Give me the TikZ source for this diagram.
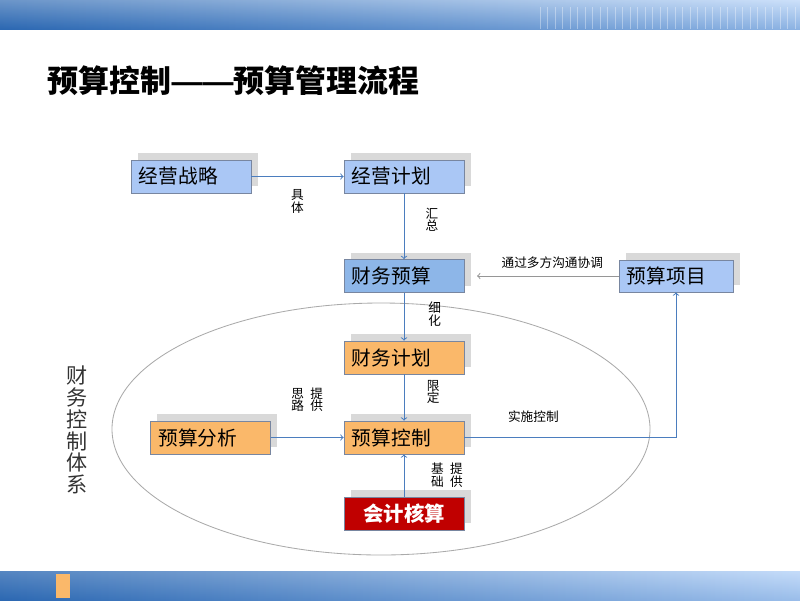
\documentclass[tikz,border=0pt]{standalone}
\usepackage{fontspec}
\setmainfont{Noto Sans CJK SC}
\newfontfamily\dashfont{Liberation Sans}
\usetikzlibrary{shadows,positioning}

\definecolor{hdark}{RGB}{44,104,178}
\definecolor{hlight}{RGB}{182,211,248}
\definecolor{lightbox}{RGB}{170,199,245}
\definecolor{midbox}{RGB}{141,182,232}
\definecolor{orangebox}{RGB}{250,184,106}
\definecolor{redbox}{RGB}{192,0,0}
\definecolor{boxborder}{RGB}{120,134,160}
\definecolor{flowblue}{RGB}{75,125,190}
\definecolor{flowgray}{RGB}{150,150,150}
\definecolor{ringgray}{RGB}{170,170,170}

\begin{document}
\begin{tikzpicture}%
		[x=0.025cm, y=-0.025cm,
		>=to,
		box/.style={draw=boxborder, line width=0.5pt, minimum width=3cm, minimum height=0.825cm,
			text width=2.6cm, inner xsep=0.2cm, align=left, font=\fontsize{14}{16}\selectfont,
			drop shadow={shadow xshift=0.165cm, shadow yshift=0.165cm, fill=black!15, opacity=1}},
		flow/.style={draw=flowblue, line width=0.7pt},
		lbl/.style={font=\fontsize{9}{9}\selectfont, align=center, inner sep=0pt}
		]
		\useasboundingbox (0,0) rectangle (800,600);
		
		% top and bottom bands
		\shade[left color=hdark, right color=hlight] (0,0) rectangle (800,29);
		\shade[top color=white, bottom color=hdark, opacity=0.3] (0,0) rectangle (800,29);
		\foreach \sx in {540,547.5,...,797}
			\draw[white, opacity=0.35, line width=0.6pt] (\sx,7) -- (\sx,29);
		\shade[left color=hdark, right color=hlight] (0,571) rectangle (800,600);
		\shade[top color=white, bottom color=hdark, opacity=0.2] (0,571) rectangle (800,600);
		\fill[orangebox] (56,574) rectangle (70,598);
		
		\node[anchor=west, font=\fontsize{22}{24}\selectfont\bfseries] (title) at (43,81) {预算控制{\dashfont ——}预算管理流程};
		
		% the control system
		\draw[ringgray, line width=0.6pt] (381,429) ellipse [x radius=269, y radius=126];
		\node[align=center, text=black!80, font=\fontsize{15}{15.5}\selectfont] (system) at (77,430) {财\\务\\控\\制\\体\\系};
		
		\tikzstyle{bluebox}=[box, fill=lightbox]
		\tikzstyle{orangebx}=[box, fill=orangebox]
		\node[bluebox] (strategy)  at (191,176.5) {经营战略};
		\node[bluebox] (plan)      at (404,176.5) {经营计划};
		\node[box, fill=midbox] (finbudget) at (404,276) {财务预算};
		\node[bluebox, minimum width=2.85cm, minimum height=0.8cm, text width=2.45cm] (item) at (676,276) {预算项目};
		\node[orangebx] (finplan)  at (404,357.5) {财务计划};
		\node[orangebx] (ctrl)     at (404,437.5) {预算控制};
		\node[orangebx] (analysis) at (210.5,437.5) {预算分析};
		\node[box, fill=redbox, text=white, align=center, font=\fontsize{14.5}{16}\selectfont\bfseries] (acct) at (404,513.5) {会计核算};
		
		\path[->, flow]
		%   FROM     EDGE   LABEL                                            TO
		(strategy) edge node[lbl, below=9pt] (lJuti) {具\\体}                  (plan)
		(plan) edge node[lbl, right=15pt, pos=.4] (lHuizong) {汇\\总}          (finbudget)
		(finbudget) edge node[lbl, right=17pt, pos=.45] (lXihua) {细\\化}      (finplan)
		(finplan) edge node[lbl, right=16pt, pos=.38] (lXianding) {限\\定}     (ctrl)
		(analysis) edge node[lbl, above=18pt] (lSilu) {思\enspace 提\\路\enspace 供} (ctrl)
		(acct) edge node[lbl, right=19pt] (lJichu) {基\enspace 提\\础\enspace 供} (ctrl)
		;
		\draw[->, flow] (ctrl) -| node[lbl, pos=.163, above=10pt] (lShishi) {实施控制} (item);
		\draw[->, draw=flowgray, line width=0.7pt, shorten >=9pt] (item.west) -- node[lbl, pos=.43, above=5pt] (lTongguo) {通过多方沟通协调} (item.west -| finbudget.east);
		\end{tikzpicture}
\end{document}
